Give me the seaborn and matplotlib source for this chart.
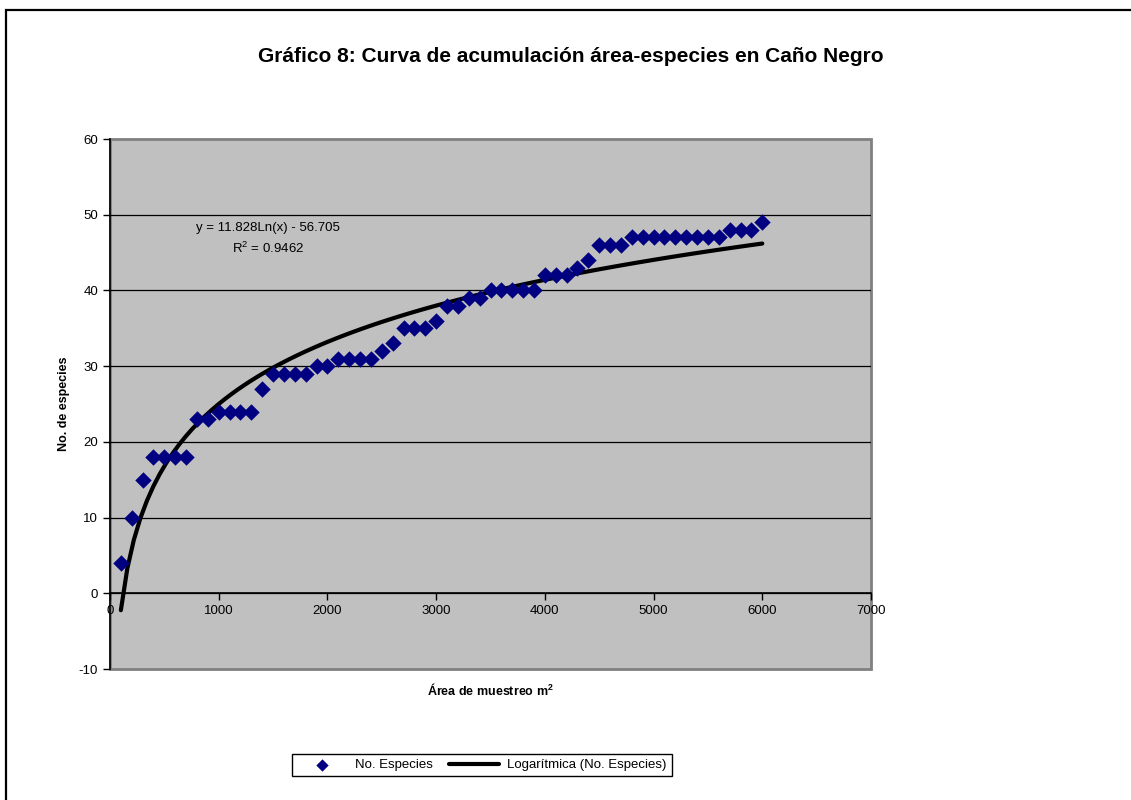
import numpy as np
import pandas as pd
import seaborn as sns
import matplotlib.pyplot as plt
from matplotlib.patches import Rectangle

# Área de muestreo (m2) and accumulated species count
area = list(range(100, 6001, 100))
especies = [4, 10, 15, 18, 18, 18, 18, 23, 23, 24,
            24, 24, 24, 27, 29, 29, 29, 29, 30, 30,
            31, 31, 31, 31, 32, 33, 35, 35, 35, 36,
            38, 38, 39, 39, 40, 40, 40, 40, 40, 42,
            42, 42, 43, 44, 46, 46, 46, 47, 47, 47,
            47, 47, 47, 47, 47, 47, 48, 48, 48, 49]

titulo = 'Gráfico 8: Curva de acumulación área-especies en Caño Negro'
ecuacion = 'y = 11.828Ln(x) - 56.705\n$\\mathregular{R^2}$ = 0.9462'
x_ticks = [0, 1000, 2000, 3000, 4000, 5000, 6000, 7000]
y_ticks = [-10, 0, 10, 20, 30, 40, 50, 60]

df = pd.DataFrame({'Area': area, 'Especies': especies})

sns.set_style('white')
plt.rcParams['font.family'] = ['Liberation Sans', 'DejaVu Sans']
plt.rcParams['text.color'] = 'black'
plt.rcParams['axes.labelcolor'] = 'black'
plt.rcParams['xtick.color'] = 'black'
plt.rcParams['ytick.color'] = 'black'
plt.rcParams['axes.unicode_minus'] = False

fig = plt.figure(figsize=(11.31, 8), dpi=100)
ax = fig.add_axes([110 / 1131, 1 - 669 / 800, 761 / 1131, 530 / 800])

# Excel style plot area
ax.set_facecolor('#c0c0c0')
ax.patch.set_edgecolor('#808080')
ax.patch.set_linewidth(2)

sns.scatterplot(data=df, x='Area', y='Especies', marker='D', s=70,
                color='#000080', linewidth=0, ax=ax, label='No. Especies', zorder=3)
# logarithmic trend line, y ~ ln(x)
sns.regplot(data=df, x='Area', y='Especies', logx=True, ci=None, scatter=False,
            color='black', line_kws={'lw': 3, 'solid_capstyle': 'round'},
            ax=ax, label='Logarítmica (No. Especies)')

ax.set_xlim(0, 7000)
ax.set_ylim(-10, 60)
ax.set_xticks(x_ticks)
ax.set_yticks(y_ticks)
ax.yaxis.grid(True, color='black', lw=0.9)
ax.set_axisbelow(True)
# outer gridlines coincide with the grey border of the plot area
gl = ax.get_ygridlines()
gl[0].set_visible(False)
gl[-1].set_visible(False)

for s in ['top', 'right']:
    ax.spines[s].set_visible(False)
ax.spines['left'].set_color('black')
ax.spines['left'].set_linewidth(1.2)
ax.spines['bottom'].set_position(('data', 0))
ax.spines['bottom'].set_color('black')
ax.spines['bottom'].set_linewidth(1.2)
ax.tick_params(axis='both', direction='out', length=5, width=1, color='black',
               labelsize=9.5, bottom=True, left=True)

ax.set_xlabel('Área de muestreo m$\\mathregular{^2}$', fontsize=9, fontweight='bold')
ax.xaxis.set_label_coords(0.5, -0.025)
ax.set_ylabel('No. de especies', fontsize=9, fontweight='bold')
ax.yaxis.set_label_coords(-0.052, 0.5)

ax.text(1450, 46.8, ecuacion, ha='center', va='center', fontsize=9.5, linespacing=1.6)

fig.text(571 / 1131, 1 - 57 / 800, titulo, ha='center', va='center',
         fontsize=15, fontweight='bold')

ax.legend(loc='center', bbox_to_anchor=(482 / 1131, 1 - 765 / 800),
          bbox_transform=fig.transFigure, ncol=2, frameon=True, fancybox=False,
          edgecolor='black', fontsize=9.5, handlelength=3.8, columnspacing=1.2,
          handletextpad=0.6, markerscale=0.75, borderpad=0.4, framealpha=1)

fig.patches.append(Rectangle((6 / 1131, -0.1), 1.2, 1.1 - 10 / 800,
                             transform=fig.transFigure, fill=False,
                             edgecolor='black', lw=1.6))

plt.savefig('out.png', dpi=100)
